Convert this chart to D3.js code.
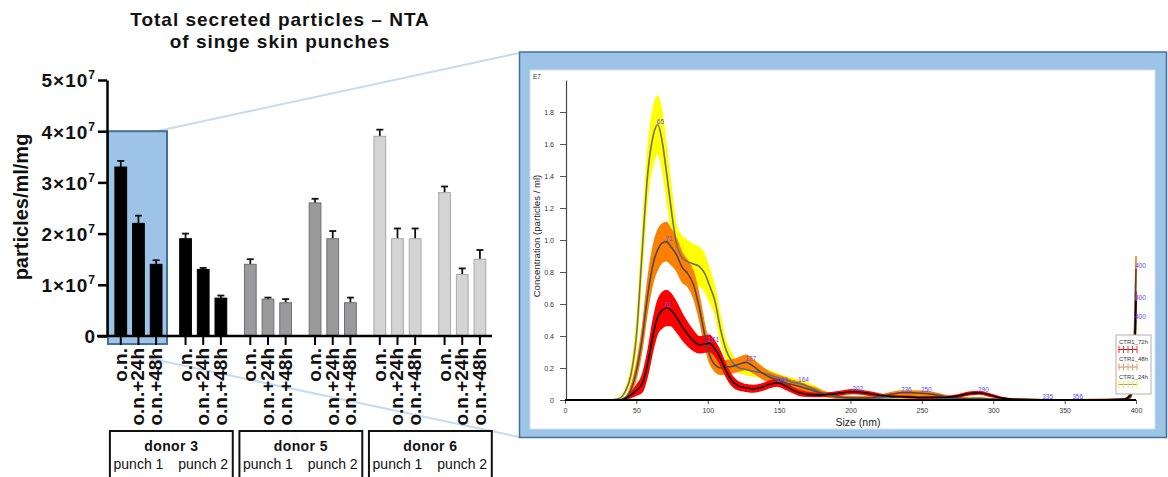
<!DOCTYPE html>
<html>
<head>
<meta charset="utf-8">
<script src="https://cdn.jsdelivr.net/npm/d3@7"></script>
<style>
  body { margin: 0; background: #fff; }
  svg { display: block; font-family: "Liberation Sans", Arial, sans-serif; }
</style>
</head>
<body>
<svg id="fig" width="1168" height="477"></svg>
<script>
// ---------- bar chart: total secreted particles ----------
const punches = ["d3p1", "d3p2", "d5p1", "d5p2", "d6p1", "d6p2"];
const times = ["o.n.", "o.n.+24h", "o.n.+48h"];
const donors = ["donor 3", "donor 5", "donor 6"];
const punchNames = ["punch 1", "punch 2"];
// values in units of 1e7 particles/ml/mg, 3 per punch
const particleMeans = [3.3, 2.2, 1.4, 1.9, 1.3, 0.74, 1.4, 0.72, 0.65, 2.6, 1.9, 0.65, 3.9, 1.9, 1.9, 2.8, 1.2, 1.5];
const particleErr = [0.12, 0.15, 0.08, 0.1, 0.03, 0.05, 0.1, 0.03, 0.07, 0.08, 0.15, 0.1, 0.13, 0.2, 0.2, 0.12, 0.12, 0.18];
const yTicks = [0, 1, 2, 3, 4, 5];

// ---------- NTA size distribution (E7 particles/ml) ----------
const sizes = [0, 30, 38, 42, 46, 50, 54, 58, 62, 65, 68, 71, 74, 78, 82, 86, 90, 94, 98, 101,
  105, 109, 113, 117, 121, 127, 132, 138, 144, 149, 155, 160, 164, 170, 175, 180, 190, 202, 210, 220,
  228, 236, 243, 250, 258, 266, 275, 283, 290, 298, 306, 315, 335, 356, 380, 392, 396, 398, 400];
const conc24 = [0, 0, 0.01, 0.05, 0.15, 0.40, 0.92, 1.42, 1.66, 1.72, 1.62, 1.43, 1.22, 0.98, 0.89, 0.865, 0.85, 0.835, 0.79, 0.72,
  0.62, 0.44, 0.31, 0.24, 0.205, 0.19, 0.18, 0.17, 0.155, 0.14, 0.125, 0.11, 0.104, 0.085, 0.065, 0.045, 0.022, 0.012, 0.01, 0.012,
  0.016, 0.02, 0.02, 0.018, 0.014, 0.01, 0.008, 0.008, 0.01, 0.006, 0.003, 0.002, 0.001, 0.001, 0.002, 0.006, 0.03, 0.12, 0.5];
const err24 = [0, 0, 0.005, 0.01, 0.03, 0.06, 0.1, 0.14, 0.17, 0.18, 0.17, 0.15, 0.13, 0.11, 0.13, 0.13, 0.12, 0.12, 0.11, 0.1,
  0.08, 0.07, 0.05, 0.04, 0.03, 0.03, 0.03, 0.025, 0.025, 0.02, 0.02, 0.02, 0.02, 0.02, 0.02, 0.015, 0.01, 0.008, 0.006, 0.006,
  0.008, 0.008, 0.008, 0.008, 0.006, 0.005, 0.004, 0.004, 0.005, 0.003, 0.002, 0.001, 0.001, 0.001, 0.001, 0.004, 0.01, 0.03, 0.05];
const conc48 = [0, 0, 0, 0.01, 0.06, 0.18, 0.38, 0.66, 0.86, 0.94, 0.98, 0.99, 0.96, 0.91, 0.83, 0.79, 0.72, 0.58, 0.40, 0.29,
  0.22, 0.20, 0.205, 0.21, 0.22, 0.235, 0.21, 0.17, 0.14, 0.125, 0.105, 0.095, 0.085, 0.07, 0.055, 0.042, 0.02, 0.012, 0.012, 0.02,
  0.035, 0.045, 0.045, 0.042, 0.035, 0.022, 0.012, 0.008, 0.008, 0.005, 0.003, 0.002, 0.001, 0.001, 0.002, 0.004, 0.02, 0.15, 0.82];
const err48 = [0, 0, 0, 0.005, 0.02, 0.04, 0.06, 0.09, 0.11, 0.12, 0.12, 0.12, 0.11, 0.1, 0.09, 0.08, 0.08, 0.07, 0.06, 0.05,
  0.04, 0.04, 0.04, 0.04, 0.04, 0.045, 0.04, 0.035, 0.03, 0.03, 0.03, 0.025, 0.025, 0.02, 0.02, 0.015, 0.01, 0.008, 0.008, 0.008,
  0.01, 0.012, 0.012, 0.012, 0.01, 0.008, 0.005, 0.004, 0.004, 0.003, 0.002, 0.001, 0.001, 0.001, 0.001, 0.002, 0.01, 0.04, 0.08];
const conc72 = [0, 0, 0, 0.008, 0.03, 0.06, 0.1, 0.23, 0.42, 0.52, 0.56, 0.575, 0.565, 0.52, 0.46, 0.41, 0.37, 0.345, 0.35, 0.355,
  0.32, 0.26, 0.18, 0.12, 0.09, 0.075, 0.07, 0.08, 0.1, 0.108, 0.085, 0.06, 0.045, 0.035, 0.032, 0.032, 0.04, 0.052, 0.045, 0.03,
  0.022, 0.02, 0.018, 0.016, 0.016, 0.016, 0.025, 0.04, 0.045, 0.03, 0.012, 0.004, 0.001, 0.001, 0.002, 0.005, 0.03, 0.1, 0.62];
const err72 = [0, 0, 0, 0.005, 0.015, 0.03, 0.05, 0.07, 0.09, 0.1, 0.11, 0.11, 0.1, 0.09, 0.08, 0.07, 0.06, 0.05, 0.05, 0.05,
  0.045, 0.04, 0.035, 0.03, 0.025, 0.02, 0.02, 0.02, 0.02, 0.02, 0.02, 0.015, 0.015, 0.012, 0.01, 0.01, 0.01, 0.012, 0.01, 0.008,
  0.006, 0.005, 0.005, 0.005, 0.005, 0.005, 0.006, 0.008, 0.008, 0.006, 0.004, 0.002, 0.001, 0.001, 0.001, 0.002, 0.01, 0.03, 0.06];
const sizeTicks = [0, 50, 100, 150, 200, 250, 300, 350, 400];
const concTicks = [0, 0.2, 0.4, 0.6, 0.8, 1.0, 1.2, 1.4, 1.6, 1.8];
// peak size labels: [size, series]
const peakLabels = [[65, "24h"], [71, "48h"], [70, "72h"], [101, "72h"], [127, "48h"], [149, "72h"], [164, "24h"],
  [202, "72h"], [236, "48h"], [250, "48h"], [290, "72h"], [335, "72h"], [356, "72h"],
  [400, "48h"], [400, "72h"], [400, "24h"]];
const legendNames = ["CTR1_72h", "CTR1_48h", "CTR1_24h"];

const svg = d3.select("#fig");

// series styling
const series = {
  "24h": { conc: conc24, err: err24, band: "#ffff00", line: "#6e6e6e", tick: "#f2f23a" },
  "48h": { conc: conc48, err: err48, band: "#ff7f00", line: "#4a4a4a", tick: "#ff9a40" },
  "72h": { conc: conc72, err: err72, band: "#ff0000", line: "#000000", tick: "#ff3030" }
};
const seriesOrder = ["24h", "48h", "72h"];

// ---------- connector lines ----------
svg.append("line").attr("x1", 153).attr("y1", 132).attr("x2", 519).attr("y2", 53)
  .attr("stroke", "#c5dbf0").attr("stroke-width", 2);
svg.append("line").attr("x1", 150).attr("y1", 358.5).attr("x2", 519).attr("y2", 437)
  .attr("stroke", "#c5dbf0").attr("stroke-width", 2);

// ---------- right panel frame ----------
svg.append("rect").attr("x", 519.5).attr("y", 52).attr("width", 647).attr("height", 385.5)
  .attr("fill", "#9dc3e6").attr("stroke", "#41719c").attr("stroke-width", 1.5);
svg.append("rect").attr("x", 530).attr("y", 70).attr("width", 625).attr("height", 359)
  .attr("fill", "#fff").attr("stroke", "#cfe0f2").attr("stroke-width", 1);

const xs = d3.scaleLinear().domain([0, 400]).range([565, 1136]);
const ys = d3.scaleLinear().domain([0, 2]).range([400, 80]);

const nta = svg.append("g");
const pts = key => sizes.map((s, i) => ({ s, c: series[key].conc[i], e: series[key].err[i] }));
const nearest = s => d3.leastIndex(sizes, v => Math.abs(v - s));

const area = d3.area()
  .x(d => xs(d.s))
  .y0(d => ys(Math.max(0, d.c - d.e)))
  .y1(d => ys(d.c + d.e))
  .curve(d3.curveMonotoneX);
const line = d3.line()
  .x(d => xs(d.s))
  .y(d => ys(d.c))
  .curve(d3.curveMonotoneX);

seriesOrder.forEach(k => {
  nta.append("path").datum(pts(k)).attr("d", area)
    .attr("fill", series[k].band).attr("stroke", series[k].band).attr("stroke-width", 1.5);
});
seriesOrder.forEach(k => {
  nta.append("path").datum(pts(k)).attr("d", line)
    .attr("fill", "none").attr("stroke", series[k].line).attr("stroke-width", 1.6);
});

// axes
const gx = nta.append("g").attr("transform", "translate(0,400)")
  .call(d3.axisBottom(xs).tickValues(sizeTicks).tickSize(4).tickSizeOuter(0).tickPadding(4));
const gy = nta.append("g").attr("transform", "translate(566,0)")
  .call(d3.axisLeft(ys).tickValues(concTicks).tickSize(6).tickSizeOuter(0).tickPadding(6)
    .tickFormat(d => d === 0 ? "0" : d.toFixed(1)));
[gx, gy].forEach(g => {
  g.select(".domain").attr("stroke", "#444").attr("stroke-width", 1.2);
  g.selectAll(".tick line").attr("stroke", "#555");
  g.selectAll("text").attr("font-size", 7).attr("fill", "#333")
    .attr("font-family", "'Liberation Sans', Arial, sans-serif");
});
nta.append("line").attr("x1", xs(0)).attr("x2", xs(400)).attr("y1", ys(0)).attr("y2", ys(0))
  .attr("stroke", "#000").attr("stroke-width", 1.8);

nta.append("text").attr("x", 533).attr("y", 79).text("E7")
  .attr("font-size", 6.5).attr("fill", "#333");
nta.append("text").attr("x", 858).attr("y", 426).attr("text-anchor", "middle")
  .attr("font-size", 10.5).attr("fill", "#222").text("Size (nm)");
nta.append("text").attr("transform", "translate(540,236) rotate(-90)").attr("text-anchor", "middle")
  .attr("font-size", 9.6).attr("fill", "#222").text("Concentration (particles / ml)");

// peak labels
nta.selectAll("text.peak").data(peakLabels).join("text").attr("class", "peak")
  .attr("x", d => xs(d[0]) - 1)
  .attr("y", d => ys(series[d[1]].conc[nearest(d[0])]) - 1)
  .attr("font-size", 6.5).attr("fill", "#5a4cf2")
  .text(d => d[0]);

// legend
const lg = nta.append("g").attr("transform", "translate(1116,335)");
lg.append("rect").attr("width", 35).attr("height", 59).attr("fill", "#fff")
  .attr("stroke", "#b0b0b0").attr("stroke-width", 1);
["72h", "48h", "24h"].forEach((k, i) => {
  const row = lg.append("g").attr("transform", `translate(0,${i * 17.5})`);
  row.append("text").attr("x", 3).attr("y", 8.5).attr("font-size", 6).attr("fill", "#333").text(legendNames[i]);
  row.append("line").attr("x1", 2).attr("x2", 21).attr("y1", 14.5).attr("y2", 14.5)
    .attr("stroke", k === "72h" ? "#b02020" : "#999").attr("stroke-width", 1);
  d3.range(5).forEach(j => {
    row.append("line").attr("x1", 3 + j * 4.5).attr("x2", 3 + j * 4.5).attr("y1", 11).attr("y2", 18)
      .attr("stroke", series[k].tick).attr("stroke-width", 1);
  });
});

// ---------- bar chart ----------
const y = d3.scaleLinear().domain([0, 5]).range([336, 80]);
const outer = d3.scaleBand().domain(punches).range([111.9, 488.8]).paddingInner(0.18).paddingOuter(0);
const inner = d3.scaleBand().domain(times).range([0, outer.bandwidth()]).paddingInner(0.335).paddingOuter(0.17);
const donorFill = ["#000000", "#9a9a9c", "#d4d4d4"];
const donorStroke = ["#000000", "#6e6e70", "#a8a8a8"];

const bars = particleMeans.map((v, i) => ({
  punch: punches[Math.floor(i / 3)],
  donor: Math.floor(i / 6),
  time: times[i % 3],
  v,
  e: particleErr[i]
}));
const cx = d => outer(d.punch) + inner(d.time) + inner.bandwidth() / 2;

// highlight box around donor 3 punch 1
svg.append("rect")
  .attr("x", 108).attr("y", y(4))
  .attr("width", outer("d3p1") + outer.bandwidth() + 2 - 108)
  .attr("height", y(0) + 8 - y(4))
  .attr("fill", "#9dc3e6").attr("stroke", "#41719c").attr("stroke-width", 2);

const bc = svg.append("g");
bc.selectAll("line.err").data(bars).join("line").attr("class", "err")
  .attr("x1", cx).attr("x2", cx)
  .attr("y1", d => y(d.v)).attr("y2", d => y(d.v + d.e))
  .attr("stroke", "#111").attr("stroke-width", 1.8);
bc.selectAll("line.cap").data(bars).join("line").attr("class", "cap")
  .attr("x1", d => cx(d) - 3.5).attr("x2", d => cx(d) + 3.5)
  .attr("y1", d => y(d.v + d.e)).attr("y2", d => y(d.v + d.e))
  .attr("stroke", "#111").attr("stroke-width", 1.8);
bc.selectAll("rect.bar").data(bars).join("rect").attr("class", "bar")
  .attr("x", d => outer(d.punch) + inner(d.time))
  .attr("width", inner.bandwidth())
  .attr("y", d => y(d.v))
  .attr("height", d => y(0) - y(d.v))
  .attr("fill", d => donorFill[d.donor])
  .attr("stroke", d => donorStroke[d.donor]).attr("stroke-width", 1);

// y axis
const ga = svg.append("g").attr("transform", "translate(107,0)")
  .call(d3.axisLeft(y).tickValues(yTicks).tickSize(9).tickSizeOuter(0).tickFormat(""));
ga.select(".domain").attr("stroke", "#000").attr("stroke-width", 2.5);
ga.selectAll(".tick line").attr("stroke", "#000").attr("stroke-width", 2.5);
ga.selectAll(".tick text").remove();
ga.selectAll(".tick").each(function (d) {
  const t = d3.select(this).append("text")
    .attr("x", -11).attr("y", 0).attr("dy", "0.36em")
    .attr("text-anchor", "end").attr("fill", "#111")
    .attr("font-size", 19).attr("font-weight", "bold").attr("letter-spacing", 1)
    .attr("font-family", "'Liberation Sans', Arial, sans-serif");
  if (d === 0) { t.text("0"); return; }
  t.append("tspan").text(d + "\u00d710");
  t.append("tspan").attr("dy", -8).attr("font-size", 12).text("7");
});

// x axis line and ticks
svg.append("line").attr("x1", 97).attr("x2", 492).attr("y1", y(0)).attr("y2", y(0))
  .attr("stroke", "#000").attr("stroke-width", 2.5);
bc.selectAll("line.xt").data(bars).join("line").attr("class", "xt")
  .attr("x1", cx).attr("x2", cx).attr("y1", y(0)).attr("y2", y(0) + 9)
  .attr("stroke", "#000").attr("stroke-width", 2);

// rotated category labels
svg.selectAll("text.xl").data(bars).join("text").attr("class", "xl")
  .attr("transform", d => `translate(${cx(d) + 6},348) rotate(-90)`)
  .attr("text-anchor", "end").attr("font-size", 19).attr("font-weight", "bold").attr("fill", "#111")
  .text(d => d.time);

// y axis title
svg.append("text").attr("transform", "translate(21,207) rotate(-90)")
  .attr("text-anchor", "middle").attr("dominant-baseline", "central")
  .attr("font-size", 20).attr("font-weight", "bold").attr("fill", "#111")
  .text("particles/ml/mg");

// title
const title = svg.append("text").attr("text-anchor", "middle").attr("font-size", 19)
  .attr("font-weight", "bold").attr("letter-spacing", 1).attr("fill", "#111");
title.append("tspan").attr("x", 280).attr("y", 26).text("Total secreted particles \u2013 NTA");
title.append("tspan").attr("x", 280).attr("y", 48).text("of singe skin punches");

// donor boxes
donors.forEach((name, k) => {
  const p1 = punches[2 * k], p2 = punches[2 * k + 1];
  const x0 = outer(p1) - 2, x1 = outer(p2) + outer.bandwidth() + 3;
  svg.append("rect").attr("x", x0).attr("y", 431).attr("width", x1 - x0).attr("height", 60)
    .attr("fill", "none").attr("stroke", "#111").attr("stroke-width", 2);
  svg.append("text").attr("x", (x0 + x1) / 2).attr("y", 451).attr("text-anchor", "middle")
    .attr("font-size", 14).attr("font-weight", "bold").attr("letter-spacing", 0.4).attr("fill", "#111").text(name);
  [p1, p2].forEach((p, j) => {
    svg.append("text").attr("x", outer(p) + outer.bandwidth() / 2).attr("y", 469)
      .attr("text-anchor", "middle").attr("font-size", 14).attr("fill", "#111").text(punchNames[j]);
  });
});
</script>
</body>
</html>
